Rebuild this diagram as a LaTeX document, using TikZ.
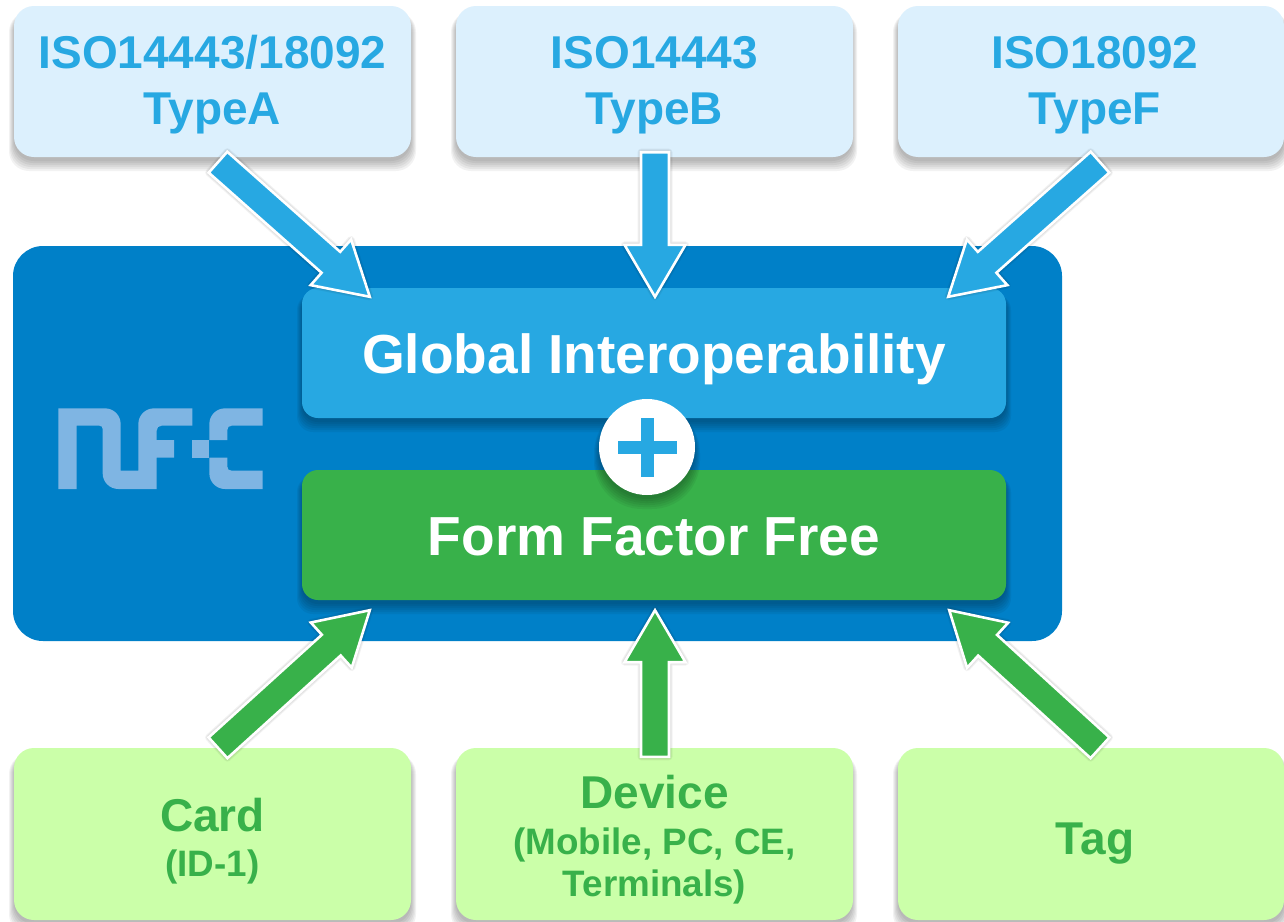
\documentclass[tikz,border=0pt]{standalone}
\usepackage{fontspec}
\setmainfont{Liberation Sans}
\usetikzlibrary{calc}
\definecolor{topfill}{HTML}{DCF0FD}
\definecolor{botfill}{HTML}{CBFFA9}
\definecolor{skyb}{HTML}{27A8E2}
\definecolor{deepb}{HTML}{0080C8}
\definecolor{grn}{HTML}{38B14A}
\definecolor{logoc}{HTML}{7FB5E3}
\newcommand\smalltxtfont{\fontsize{36.8}{42}\selectfont}
\newcommand\softshadow[5]{% x1 y1 x2 y2 radius
  \foreach \g in {10,8,6,4,2,0}{
    \fill[black,opacity=.05,rounded corners=#5]
      (#1-\g*.5,#2+6) rectangle (#3+\g*.5,#4+\g+4);}}
\newcommand\arrowoutline[2]{%
    ($(#1)!14pt!90:(#2)$) -- ($(nk)!14pt!90:(#2)$) -- ($(nk)!30.5pt!90:(#2)$) -- (#2)
    -- ($(nk)!30.5pt!-90:(#2)$) -- ($(nk)!14pt!-90:(#2)$) -- ($(#1)!14pt!-90:(#2)$) -- cycle}
\newcommand\blockarrow[3]{% tail, tip, colour
  \coordinate (nk) at ($(#2)!52pt!(#1)$);
  \foreach \g in {7,5,3}{
  \draw[black,opacity=.05,line width=\g pt,line join=round,fill=black,shift={(1,4)}] \arrowoutline{#1}{#2};}
  \draw[fill=#3,draw=white,line width=2.6pt,line join=miter,miter limit=10] \arrowoutline{#1}{#2};}
\tikzset{
  x=1pt,y=-1pt,
  stdbox/.style={rounded corners=20pt,minimum width=397pt,inner sep=0pt,align=center,font=\bfseries\fontsize{46}{56}\selectfont},
  topbox/.style={stdbox,fill=topfill,text=skyb,minimum height=151pt},
  botbox/.style={stdbox,fill=botfill,text=grn,minimum height=172pt},
  band/.style={rounded corners=16pt,minimum width=704pt,minimum height=130pt,inner sep=0pt,text=white,text height=40pt,text depth=0pt,font=\bfseries\fontsize{55}{60}\selectfont},
}
\begin{document}
\begin{tikzpicture}
\useasboundingbox (0,0) rectangle (1284,921);
\clip (0,0) rectangle (1284,921);
\fill[white] (0,0) rectangle (1284,921);
% top and bottom boxes
\softshadow{14}{6}{411}{157}{20}
\softshadow{456}{6}{852}{157}{20}
\softshadow{898}{6}{1284}{157}{20}
\node[topbox] (typea) at (212.5,81.5) {\rule{0pt}{39pt}ISO14443/18092\\TypeA};
\node[topbox] (typeb) at (654.5,81.5) {\rule{0pt}{39pt}ISO14443\\TypeB};
\node[topbox,minimum width=386pt] (typef) at (1091,81.5) {\rule{0pt}{39pt}\hspace*{8pt}ISO18092\\\hspace*{8pt}TypeF};
\softshadow{14}{748}{411}{920}{20}
\softshadow{456}{748}{852}{920}{20}
\softshadow{898}{748}{1284}{920}{20}
\node[botbox] (card) at (212.5,834) {\rule{0pt}{48pt}Card\\[-11pt]\smalltxtfont (ID-1)};
\node[botbox] (device) at (654.5,834) {\rule{0pt}{45pt}Device\\[-10pt]\smalltxtfont (Mobile, PC, CE,\\[-14pt]\smalltxtfont Terminals)};
\node[botbox,minimum width=386pt] (tag) at (1091,834) {\rule{0pt}{51pt}\hspace*{8pt}Tag};
% main panel
\node[fill=deepb,rounded corners=30pt,minimum width=1049pt,minimum height=395pt,inner sep=0pt] (panel) at (537.5,443.5) {};
% logo
\begin{scope}[shift={(30,380)},x=.33333pt,y=-.33333pt]
\fill[logoc] (85,85) -- (225,85) .. controls (251,85) and (272,106) .. (272,132) -- (272,272) -- (325,272) -- (325,132) .. controls (325,106) and (346,85) .. (372,85) -- (487,85) -- (487,137) -- (395,137) .. controls (386,137) and (380,143) .. (380,152) -- (380,180) -- (432,180) -- (432,233) -- (380,233) -- (380,327) -- (265,327) .. controls (239,327) and (218,306) .. (218,280) -- (218,147) .. controls (218,141) and (214,137) .. (208,137) -- (140,137) -- (140,327) -- (85,327) -- cycle;
\fill[logoc] (485,180) rectangle (538,233);
\fill[logoc] (698,85) -- (585,85) .. controls (559,85) and (538,106) .. (538,132) -- (538,180) -- (592,180) -- (592,150) .. controls (592,142) and (597,137) .. (605,137) -- (698,137) -- cycle;
\fill[logoc] (538,233) -- (592,233) -- (592,260) .. controls (592,268) and (597,272) .. (605,272) -- (698,272) -- (698,327) -- (585,327) .. controls (559,327) and (538,306) .. (538,280) -- cycle;
\end{scope}
% bands
\softshadow{302}{288}{1006}{418}{16}
\node[band,fill=skyb] (global) at (654,353) {Global Interoperability};
\softshadow{302}{470}{1006}{600}{16}
\node[band,fill=grn] (form) at (654,535) {Form Factor Free};
% plus
\softshadow{599}{399}{695}{495}{48}
\node[circle,fill=white,minimum size=96pt,inner sep=0pt] (plus) at (647,447) {};
\fill[skyb] (617.5,440.5) rectangle (676.5,453.5);
\fill[skyb] (640.5,417.5) rectangle (653.5,476.5);
% arrows
\coordinate (a1) at ($(typea.south)+(5.5,5)$);
\coordinate (a2) at ($(global.north west)+(68,9)$);
\coordinate (b1) at ($(typeb.south)+(0.5,-5)$);
\coordinate (b2) at ($(global.north)+(1,9)$);
\coordinate (c1) at ($(typef.south)+(9,5)$);
\coordinate (c2) at ($(global.north east)+(-58,9)$);
\coordinate (d1) at ($(card.north)+(5.5,0)$);
\coordinate (d2) at ($(form.south west)+(68,10)$);
\coordinate (e1) at ($(device.north)+(0.5,9)$);
\coordinate (e2) at ($(form.south)+(1,10)$);
\coordinate (f1) at ($(tag.north)+(9,0)$);
\coordinate (f2) at ($(form.south east)+(-57,10)$);
\blockarrow{a1}{a2}{skyb}
\blockarrow{b1}{b2}{skyb}
\blockarrow{c1}{c2}{skyb}
\blockarrow{d1}{d2}{grn}
\blockarrow{e1}{e2}{grn}
\blockarrow{f1}{f2}{grn}
\end{tikzpicture}
\end{document}
